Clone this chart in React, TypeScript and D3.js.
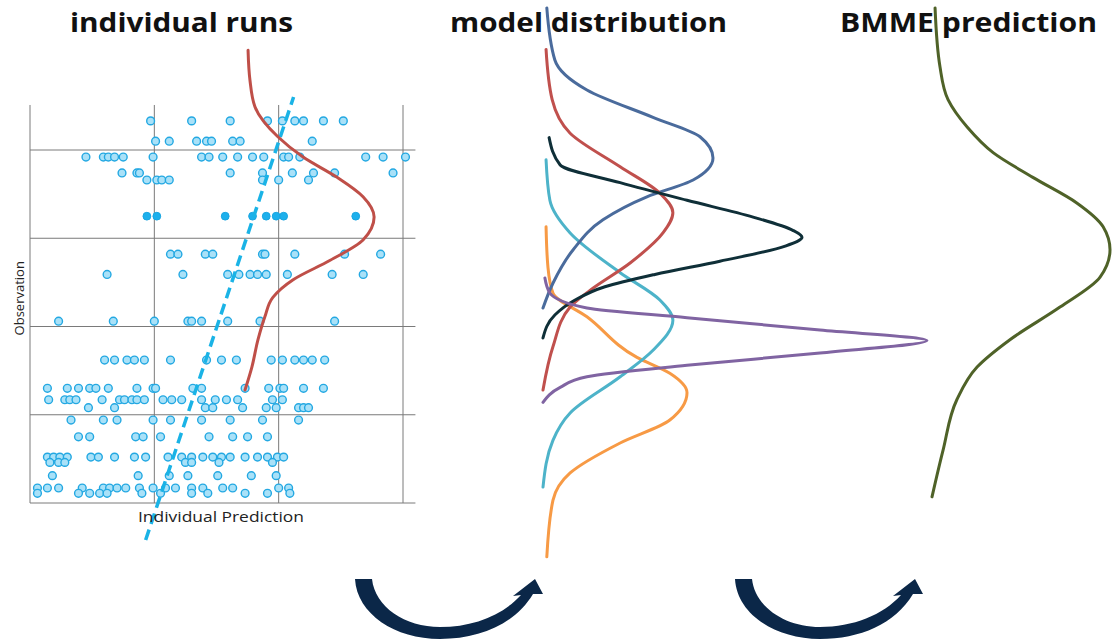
import * as d3 from "d3";
import React from "react";

// observation value (row) -> individual predictions in that row
const obsRows: [number, number[]][] = [
  [43.3, [9.7, 13.0, 16.1, 19.1, 20.3, 21.3, 22.0, 23.6, 25.2]],
  [41.0, [10.1, 11.2, 13.4, 14.2, 14.6, 16.3, 16.9, 22.7]],
  [39.2, [4.5, 5.9, 6.3, 6.8, 7.5, 9.9, 13.8, 14.4, 15.5, 16.7, 17.9, 18.8, 20.4, 20.8, 21.7, 27.0, 28.4, 30.2]],
  [37.4, [7.4, 8.6, 8.8, 16.1, 18.7, 21.1, 22.8, 24.5, 29.2]],
  [36.6, [9.4, 10.2, 10.6, 11.2, 18.7, 20.0, 22.4]],
  [28.2, [11.3, 11.9, 14.1, 14.7, 18.7, 18.9, 21.3, 25.3, 28.2]],
  [25.9, [6.2, 12.3, 15.9, 16.8, 17.7, 18.3, 19.0, 20.7, 24.3, 26.8]],
  [20.6, [2.3, 6.7, 10.0, 12.7, 13.0, 13.8, 15.9, 18.5, 24.5]],
  [16.2, [6.0, 6.8, 7.8, 8.4, 9.2, 11.3, 14.2, 15.4, 16.6, 19.4, 20.3, 21.3, 22.0, 22.7, 23.7]],
  [13.0, [1.4, 3.0, 3.9, 4.8, 5.3, 6.3, 8.6, 9.9, 10.1, 13.1, 13.8, 17.3, 19.2, 20.1, 20.4, 22.0, 23.6]],
  [11.7, [1.5, 2.8, 3.2, 3.7, 5.8, 7.2, 7.6, 8.2, 8.6, 9.2, 10.7, 11.4, 12.2, 13.8, 14.9, 15.8, 16.7, 19.5, 20.3]],
  [10.8, [4.7, 6.8, 14.1, 14.7, 17.1, 19.0, 19.8, 21.6, 22.0, 22.4]],
  [9.4, [3.3, 5.9, 7.0, 9.9, 11.3, 13.8, 16.1, 18.7, 21.6]],
  [7.5, [3.9, 4.8, 8.5, 9.1, 10.5, 14.4, 16.3, 17.5, 19.1]],
  [5.2, [1.4, 1.9, 2.4, 3.0, 4.9, 5.5, 6.8, 8.4, 9.3, 11.1, 12.2, 13.0, 13.9, 14.7, 15.4, 16.1, 17.3, 18.3, 19.1, 19.9, 20.4]],
  [4.6, [1.6, 2.3, 2.8, 12.5, 13.0, 15.2, 19.5]],
  [3.1, [1.8, 8.7, 11.2, 12.7, 15.1, 17.8, 19.8]],
  [1.7, [0.6, 1.4, 2.3, 4.2, 5.9, 6.4, 7.0, 7.7, 8.8, 9.9, 10.9, 11.7, 13.0, 13.9, 15.5, 16.3, 20.0, 20.8]],
  [1.1, [0.6, 3.9, 4.8, 5.6, 6.2, 9.0, 10.5, 13.0, 14.3, 17.3, 19.1, 20.9]],
];
// highlighted runs for the observed event
const highlightObs = 32.5;
const highlightPreds = [9.4, 10.2, 15.7, 17.9, 19.0, 19.8, 20.4, 26.2];

// regression (dashed) line: [prediction, observation]
const fitLine: [number, number][] = [
  [9.3, -4.2],
  [21.2, 46.0],
];

// density curves: [observation, density]
const runDensity: [number, number][] = [
  [51.3, 0.8], [47.9, 1.3], [44.9, 2.6], [41.5, 8.6], [39.2, 15.2], [36.9, 24.1], [34.7, 30.9],
  [32.4, 33.8], [29.8, 30.9], [27.5, 22.3], [25.3, 12.6], [23.3, 7.3], [21.1, 5.2], [18.5, 3.4],
  [15.4, 1.8], [12.8, 0],
];

const modelBlue: [number, number][] = [
  [56.1, 1.0], [50.2, 3.1], [46.8, 11.5], [43.7, 28.8], [41.5, 41.1], [39.1, 44.5], [36.6, 39.3],
  [34.7, 27.2], [32.1, 15.7], [28.7, 7.9], [24.9, 2.6], [22.1, 0],
];
const modelRed: [number, number][] = [
  [51.4, 0.8], [45.7, 2.4], [41.9, 7.1], [38.1, 20.2], [35.1, 30.6], [32.9, 34.0], [30.6, 31.4],
  [27.2, 22.8], [24.1, 12.3], [22.2, 7.1], [17.7, 2.6], [12.8, 0],
];
const modelDark: [number, number][] = [
  [41.4, 1.6], [38.3, 4.5], [36.3, 20.2], [34.3, 37.7], [32.4, 55.0], [30.9, 65.4], [30.1, 67.8],
  [29.1, 63.4], [27.4, 46.3], [25.9, 29.3], [24.5, 16.2], [23.0, 8.4], [21.3, 3.1], [18.7, 0],
];
const modelCyan: [number, number][] = [
  [38.9, 0.8], [34.3, 1.8], [30.6, 7.1], [26.1, 20.2], [23.0, 30.6], [20.7, 34.0], [17.3, 28.8],
  [14.3, 20.2], [10.2, 7.1], [7.1, 2.6], [1.8, 0],
];
const modelOrange: [number, number][] = [
  [31.3, 0.8], [26.7, 1.3], [23.8, 2.6], [21.1, 11.5], [16.5, 24.6], [14.7, 33.2], [12.5, 37.7],
  [9.4, 33.2], [6.8, 20.2], [3.4, 7.1], [0.3, 2.6], [-6.1, 1.0],
];
const modelPurple: [number, number][] = [
  [25.5, 0.5], [23.8, 1.8], [22.1, 11.5], [21.0, 37.7], [19.6, 72.5], [18.4, 100.5], [17.0, 72.5],
  [15.6, 37.7], [14.3, 11.5], [13.1, 4.5], [11.4, 0],
];
const bmmeDensity: [number, number][] = [
  [56.1, 0.8], [49.4, 2.1], [45.7, 4.2], [42.6, 9.2], [39.7, 16.0], [36.9, 26.4], [34.0, 37.9],
  [31.3, 44.8], [28.7, 46.6], [25.6, 44.0], [22.2, 33.5], [18.5, 20.4], [15.4, 11.8], [11.7, 6.5],
  [6.0, 2.9], [0.7, 0],
];

const modelCurves = [
  { data: modelOrange, color: "#f79a45" },
  { data: modelCyan, color: "#4db3c9" },
  { data: modelBlue, color: "#4a6b9c" },
  { data: modelRed, color: "#c0504d" },
  { data: modelDark, color: "#0f2f38" },
  { data: modelPurple, color: "#8064a2" },
];

const gridX = [0, 10, 20, 30];
const gridY = [0, 10, 20, 30, 40];

const titles = [
  { text: "individual runs", x: 70, w: 223 },
  { text: "model distribution", x: 450, w: 277 },
  { text: "BMME prediction", x: 840, w: 257 },
];

const ARROW =
  "M0,0 L17,0 C20,28 50,48 85,48 C118,48 148,36 166,16 L158,17 L180,0 L188,15 L178,15 C160,45 125,60 85,60 C40,60 2,35 0,0 Z";

const App = () => {
  const width = 1112;
  const height = 641;
  const x = d3.scaleLinear([0, 30], [30, 403]);
  const y = d3.scaleLinear([0, 40], [503, 150]);
  const dens = d3.scaleLinear([0, 100], [0, 382]);

  // densities are drawn sideways: observation runs down, density to the right
  const densityPath = (base: number, data: [number, number][]) =>
    d3
      .line<[number, number]>()
      .x((d) => base + dens(d[1]))
      .y((d) => y(d[0]))
      .curve(d3.curveMonotoneY)(data) ?? undefined;

  const fit = d3
    .line<[number, number]>()
    .x((d) => x(d[0]))
    .y((d) => y(d[1]))(fitLine) ?? undefined;

  const font = "'Open Sans', 'DejaVu Sans', sans-serif";

  return (
    <svg
      width={width}
      height={height}
      style={{ position: "absolute", left: 0, top: 0, background: "#fff" }}
    >
      {titles.map((t) => (
        <text
          key={t.text}
          x={t.x}
          y={32}
          fontFamily={font}
          fontWeight={700}
          fontSize={27}
          fill="#111"
          textLength={t.w}
          lengthAdjust="spacingAndGlyphs"
        >
          {t.text}
        </text>
      ))}

      {/* scatter grid */}
      <g stroke="#7a7a7a" strokeWidth={1}>
        {gridX.map((g) => (
          <line key={"vx" + g} x1={x(g)} x2={x(g)} y1={y(45.1)} y2={y(0)} />
        ))}
        {gridY.map((g) => (
          <line key={"hy" + g} x1={x(0)} x2={x(31)} y1={y(g)} y2={y(g)} />
        ))}
      </g>

      <g fill="#a9e1f8" stroke="#23a8e2" strokeWidth={1.4}>
        {obsRows.flatMap(([o, preds]) =>
          preds.map((p, i) => <circle key={o + "-" + i} cx={x(p)} cy={y(o)} r={3.9} />),
        )}
      </g>
      <g fill="#1db0ec" stroke="#1aa6e2" strokeWidth={1}>
        {highlightPreds.map((p, i) => (
          <circle key={"h" + i} cx={x(p)} cy={y(highlightObs)} r={3.9} />
        ))}
      </g>

      <path
        d={fit}
        fill="none"
        stroke="#1ab3e6"
        strokeWidth={3.5}
        strokeDasharray="11 6"
      />

      <path
        d={densityPath(245, runDensity)}
        fill="none"
        stroke="#bf4f48"
        strokeWidth={3}
        strokeLinecap="round"
      />

      <text
        transform={`translate(24,${y(23.2)}) rotate(-90)`}
        textAnchor="middle"
        fontFamily={font}
        fontSize={13}
        fill="#222"
      >
        Observation
      </text>
      <text
        x={221}
        y={522}
        textAnchor="middle"
        fontFamily={font}
        fontSize={14}
        fill="#222"
        textLength={166}
        lengthAdjust="spacingAndGlyphs"
      >
        Individual Prediction
      </text>

      {modelCurves.map((c, i) => (
        <path
          key={i}
          d={densityPath(543, c.data)}
          fill="none"
          stroke={c.color}
          strokeWidth={3}
          strokeLinecap="round"
        />
      ))}

      <path
        d={densityPath(932, bmmeDensity)}
        fill="none"
        stroke="#4f6228"
        strokeWidth={3}
        strokeLinecap="round"
      />

      {[355, 735].map((ax) => (
        <path key={ax} d={ARROW} transform={`translate(${ax},579)`} fill="#0b2748" />
      ))}
    </svg>
  );
};

export default App;
